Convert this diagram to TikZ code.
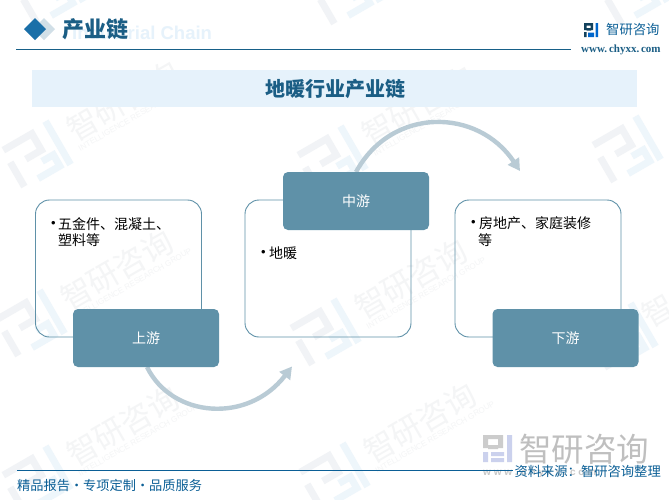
\documentclass[tikz,border=0pt]{standalone}
\usepackage{fontspec}
\setmainfont{Noto Sans CJK SC}
\newfontfamily\latinf{Liberation Sans}
\newfontfamily\seriff{Liberation Serif}
\usetikzlibrary{arrows.meta}
\definecolor{deep}{HTML}{1B5E85}
\definecolor{ruleblue}{HTML}{176088}
\definecolor{band}{HTML}{E6F2FB}
\definecolor{boxfill}{HTML}{5F91A8}
\definecolor{arcc}{HTML}{B9CBD5}
\definecolor{wm}{HTML}{F4F5F6}
\definecolor{wmlogoa}{HTML}{F1F3F6}
\definecolor{wmlogob}{HTML}{EEF6FB}
\definecolor{foot}{HTML}{0B5F96}
\definecolor{diamondc}{HTML}{1A6FA8}
\tikzset{
  card/.style={draw=boxfill,line width=0.9pt,rounded corners=14pt,minimum width=166pt,minimum height=137pt,inner sep=0pt},
  head/.style={fill=boxfill,rounded corners=5pt,minimum width=146pt,minimum height=58pt,text=white,font=\fontsize{14}{16}\selectfont,inner sep=0pt},
  cardtext/.style={anchor=west,text=black,font=\fontsize{14}{16}\selectfont,inner sep=0pt},
  bulletmark/.style={anchor=west,text=black,font=\latinf\fontsize{13}{15}\selectfont,inner sep=0pt},
  arcarrow/.style={draw=arcc,line width=4.4pt,-{Triangle[length=12pt,width=13pt]}},
  wmtext/.style={text=wm,font=\fontsize{31}{33}\selectfont,rotate=30,inner sep=0pt},
  wmsub/.style={text=wm,font=\latinf\fontsize{8}{9}\selectfont,rotate=30,inner sep=0pt},
}
\newcommand{\wlogo}[2]{%
  \begin{scope}[shift={(#1,#2)},rotate=30,line width=7pt]
    \draw[wmlogoa] (-25,-20) -- (8,-20) -- (8,-1) -- (-10,-1);
    \draw[wmlogoa] (-25,-6) -- (-25,22);
    \draw[wmlogob] (-9,22) -- (16,22) -- (16,9) -- (3,9);
    \draw[wmlogob] (26,-24) -- (26,26);
  \end{scope}}
\newcommand{\wmark}[2]{%
  \wlogo{#1}{#2}
  \begin{scope}[shift={(#1,#2)}]
    \node[wmtext] at (88,-54) {智研咨询};
    \node[wmsub] at (103,-40) {INTELLIGENCE RESEARCH GROUP};
  \end{scope}}
\begin{document}
\begin{tikzpicture}[x=1pt,y=-1pt]
\useasboundingbox (0,0) rectangle (669,499);
\fill[white] (0,0) rectangle (669,499);
% watermarks
\wlogo{48}{-8}
\wlogo{345}{-8}
\wlogo{632}{-8}
\wmark{35}{155}
\wmark{330}{160}
\wlogo{625}{150}
\wmark{29}{324}
\wmark{323}{333}
\wlogo{620}{337}
\node[wmtext] (wmc) at (658,310) {智};
\wmark{35}{480}
\wmark{332}{477}
% header
\fill[deep!20!white] (33,29) -- (44,18) -- (55,29) -- (44,40) -- cycle;
\node[text=band,font=\latinf\bfseries\fontsize{18.5}{20}\selectfont,anchor=west,inner sep=0pt] (en) at (72,33) {Industrial Chain};
\fill[diamondc] (24,29) -- (35,18) -- (46,29) -- (35,40) -- cycle;
\node[text=deep,font=\bfseries\fontsize{22}{24}\selectfont,anchor=west,inner sep=0pt] (ttl) at (62,29) {产业链};
\draw[ruleblue,line width=0.9pt] (16,49.3) -- (571,49.3);
% logo top right
\begin{scope}[shift={(584,23)}]
  \fill[deep!70!black] (0,0) rectangle (9,2.5) (0,0) rectangle (2.5,7) (6.5,0) rectangle (9,7) (2.5,5) rectangle (7,7.5) (0,9) rectangle (2.5,14);
  \fill[blue!50!cyan!80!black] (4,9.5) rectangle (10,14) (11.5,0) rectangle (14,14);
\end{scope}
\node[text=foot,font=\fontsize{13.3}{15}\selectfont,anchor=west,inner sep=0pt] (brand) at (606,29.5) {智研咨询};
\node[text=deep,font=\seriff\bfseries\fontsize{11}{12}\selectfont,anchor=west,inner sep=0pt] (url) at (581,50) {www.\,chyxx.\,com};
% band
\fill[band] (32,70) rectangle (637,107);
\node[text=deep,font=\bfseries\fontsize{20}{22}\selectfont,inner sep=0pt] (main) at (335,89) {地暖行业产业链};
% nodes
\node[card] (c1) at (118.5,268.5) {};
\node[card] (c2) at (328,268.5) {};
\node[card] (c3) at (538,268.5) {};
\coordinate (a1s) at (147,367);
\coordinate (a1e) at (292,366.5);
\coordinate (a2s) at (356,172);
\coordinate (a2e) at (520,171);
\draw[arcarrow] (a1s) .. controls (172,418) and (248,424) .. (a1e);
\draw[arcarrow] (a2s) .. controls (392,106) and (478,108) .. (a2e);
\node[head] (h1) at (146,338) {上游};
\node[head] (h2) at (356,201) {中游};
\node[head] (h3) at (565.5,338) {下游};
\node[bulletmark] (b1) at (51,224) {•};
\node[cardtext] (t1) at (58,224) {五金件、混凝土、};
\node[cardtext] (t1b) at (58,240.5) {塑料等};
\node[bulletmark] (b2) at (261,253) {•};
\node[cardtext] (t2) at (269,253) {地暖};
\node[bulletmark] (b3) at (471,223) {•};
\node[cardtext] (t3) at (479,223) {房地产、家庭装修};
\node[cardtext] (t3b) at (478,240.5) {等};
% bottom right logo
\begin{scope}[shift={(483,435)}]
  \fill[black!20] (0,0) rectangle (20,4) (0,0) rectangle (5,13) (15,0) rectangle (20,13) (5,10) rectangle (15,14);
  \fill[cyan!35!blue!20] (0,17) rectangle (5,27) (8,17) rectangle (21,21) (8,23) rectangle (21,27) (24,0) rectangle (29,27);
\end{scope}
\node[text=black!25,font=\fontsize{32.5}{34}\selectfont,anchor=west,inner sep=0pt] (wmb) at (519,449) {智研咨询};
\node[text=black!22,font=\latinf\bfseries\fontsize{10}{11}\selectfont,anchor=west,inner sep=0pt] (wmu) at (483,473) {w w w . c h y x x . c o m};
% footer
\draw[foot,line width=0.8pt] (17,470.3) -- (513,470.3);
\node[text=foot,font=\fontsize{13.2}{15}\selectfont,anchor=west,inner sep=0pt] (f1) at (17,485) {精品报告·专项定制·品质服务};
\node[text=foot,font=\fontsize{13.3}{15}\selectfont,anchor=east,inner sep=0pt] (f2) at (661,471) {资料来源：智研咨询整理};
\end{tikzpicture}
\end{document}
